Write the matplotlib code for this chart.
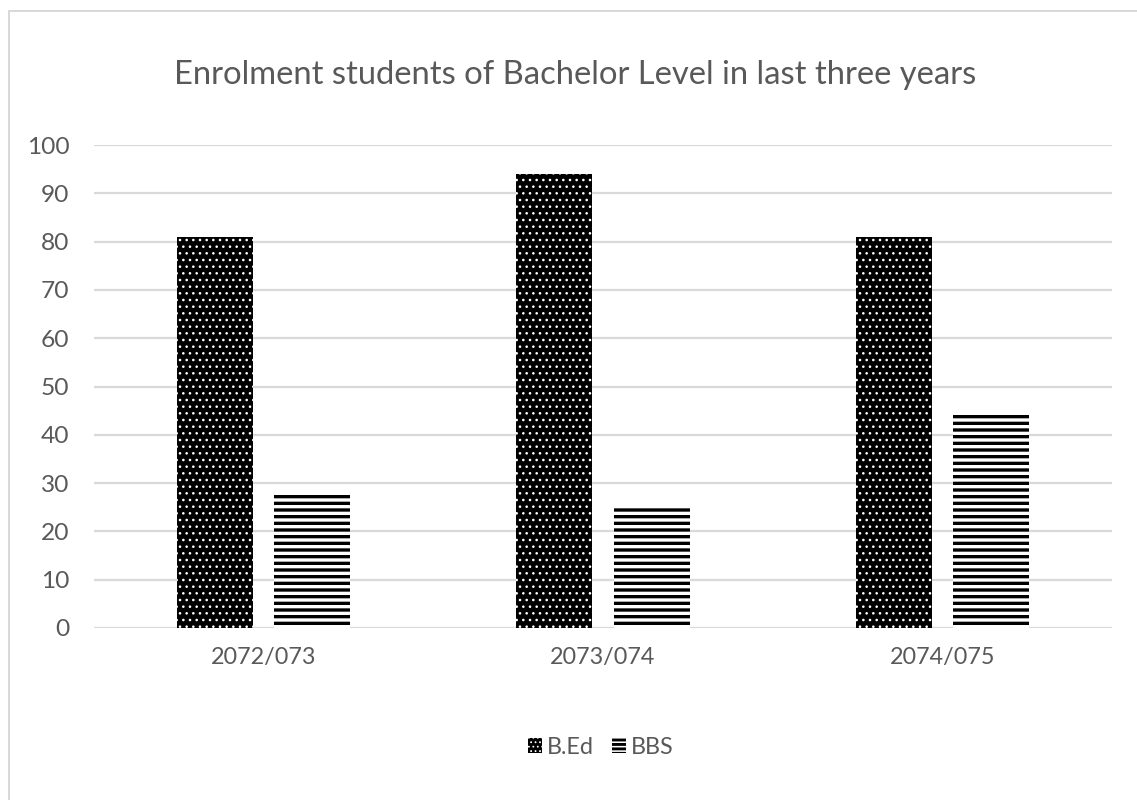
import matplotlib
matplotlib.use("Agg")
import matplotlib.pyplot as plt
import numpy as np
from matplotlib.patches import Patch
from matplotlib.lines import Line2D
from matplotlib.legend_handler import HandlerPatch

categories = ["2072/073", "2073/074", "2074/075"]
bed_values = [81, 94, 81]
bbs_values = [28, 25, 44]
series_names = ["B.Ed", "BBS"]
title = "Enrolment students of Bachelor Level in last three years"
yticks = list(range(0, 101, 10))

DPI = 80
plt.rcParams['font.family'] = ['Lato', 'DejaVu Sans']
TXT = '#595959'
GRID = '#d9d9d9'

fig = plt.figure(figsize=(1137 / DPI, 800 / DPI), dpi=DPI)
ax = fig.add_axes([94 / 1137, 1 - 628 / 800, (1112 - 94) / 1137, (628 - 145) / 800])

x = np.arange(len(categories))
w = 0.224
off = 0.143

with plt.rc_context({'hatch.linewidth': 1.1}):
    b1 = ax.bar(x - off, bed_values, w, facecolor='black', edgecolor='white',
                linewidth=0, hatch='..', zorder=3)
with plt.rc_context({'hatch.linewidth': 3.0}):
    b2 = ax.bar(x + off, bbs_values, w, facecolor='white', edgecolor='black',
                linewidth=0, hatch='--', zorder=3)

ax.set_xlim(-0.5, 2.5)
ax.set_ylim(0, 100)
ax.set_yticks(yticks)
ax.set_xticks(x)
ax.set_xticklabels(categories)
ax.yaxis.grid(True, color=GRID, linewidth=2.0, zorder=0)
for s in ax.spines.values():
    s.set_visible(False)
ax.tick_params(axis='y', length=0, colors=TXT, labelsize=22, pad=22)
ax.tick_params(axis='x', length=0, colors=TXT, labelsize=21, pad=17)

fig.text(575 / 1137, 1 - 75 / 800, title, ha='center', va='center',
         fontsize=29.5, color=TXT)


class HatchHandler(HandlerPatch):
    def __init__(self, hatch, hlw, **kw):
        super().__init__(**kw)
        self._h = hatch
        self._hlw = hlw

    def create_artists(self, legend, orig_handle, xdescent, ydescent, width, height, fontsize, trans):
        arts = super().create_artists(legend, orig_handle, xdescent, ydescent, width, height, fontsize, trans)
        for a in arts:
            a.set_hatch(self._h)
            if hasattr(a, 'set_hatch_linewidth'):
                a.set_hatch_linewidth(self._hlw)
            else:
                a._hatch_linewidth = self._hlw
        return arts


h1 = Patch(facecolor='black', edgecolor='white', linewidth=0, hatch='..')
h2 = Patch(facecolor='white', edgecolor='black', linewidth=0, hatch='---')
leg = fig.legend([h1, h2], series_names, loc='center', bbox_to_anchor=(601 / 1137, 1 - 747 / 800),
                 ncol=2, frameon=False, fontsize=21, handlelength=0.6, handleheight=0.6,
                 handletextpad=0.2, columnspacing=0.8, labelcolor=TXT,
                 handler_map={h1: HatchHandler('...', 0.9), h2: HatchHandler('---', 2.6)})

# chart-area border
fig.add_artist(Line2D([9 / 1137, 9 / 1137], [0, 1 - 11 / 800], transform=fig.transFigure,
                      color=GRID, linewidth=1.8))
fig.add_artist(Line2D([9 / 1137, 1], [1 - 11 / 800, 1 - 11 / 800], transform=fig.transFigure,
                      color=GRID, linewidth=1.8))

fig.savefig("out.png", dpi=DPI)
